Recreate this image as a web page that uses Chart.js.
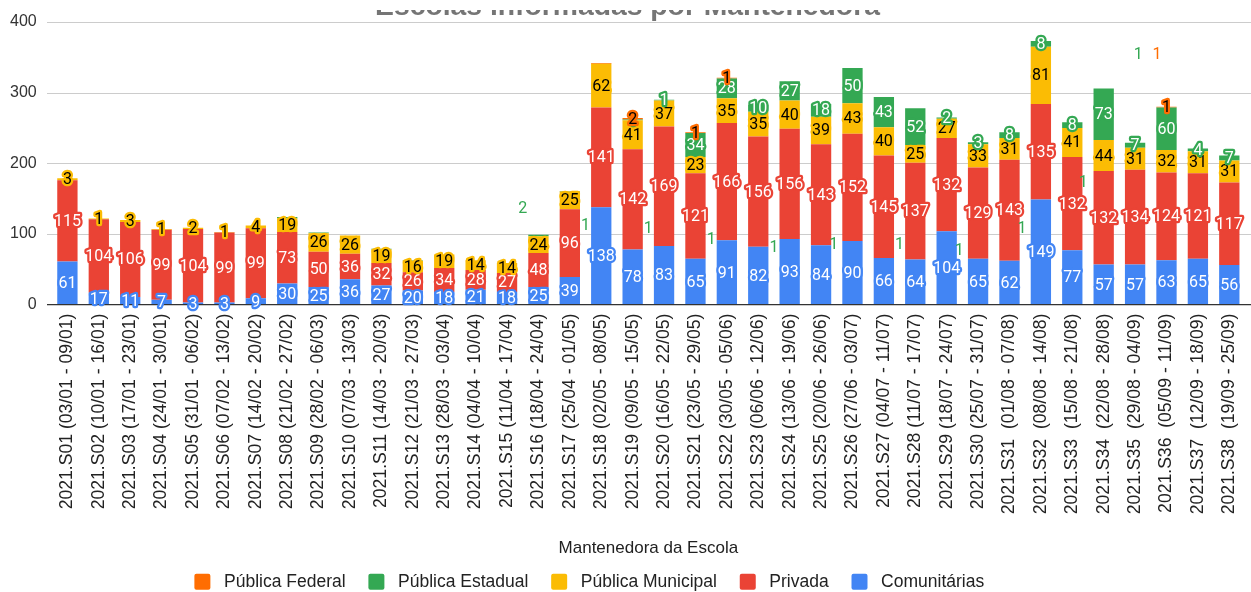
<!DOCTYPE html>
<html><head><meta charset="utf-8">
<script src="https://cdn.jsdelivr.net/npm/chart.js@4/dist/chart.umd.min.js"></script>
<style>
html,body{margin:0;padding:0;background:#fff;overflow:hidden;width:1251px;height:592px;position:relative}
#wrap{position:absolute;left:0;top:-10px;width:1251px;height:620px}
#cover{position:absolute;left:0;top:0;width:1251px;height:10px;background:#fff;z-index:2}
</style></head><body>
<div id="wrap"><canvas id="c" width="1251" height="620"></canvas></div><div id="cover"></div>
<script>
const categories = [
  "2021.S01 (03/01 - 09/01)", "2021.S02 (10/01 - 16/01)", "2021.S03 (17/01 - 23/01)", "2021.S04 (24/01 - 30/01)",
  "2021.S05 (31/01 - 06/02)", "2021.S06 (07/02 - 13/02)", "2021.S07 (14/02 - 20/02)", "2021.S08 (21/02 - 27/02)",
  "2021.S09 (28/02 - 06/03)", "2021.S10 (07/03 - 13/03)", "2021.S11 (14/03 - 20/03)", "2021.S12 (21/03 - 27/03)",
  "2021.S13 (28/03 - 03/04)", "2021.S14 (04/04 - 10/04)", "2021.S15 (11/04 - 17/04)", "2021.S16 (18/04 - 24/04)",
  "2021.S17 (25/04 - 01/05)", "2021.S18 (02/05 - 08/05)", "2021.S19 (09/05 - 15/05)", "2021.S20 (16/05 - 22/05)",
  "2021.S21 (23/05 - 29/05)", "2021.S22 (30/05 - 05/06)", "2021.S23 (06/06 - 12/06)", "2021.S24 (13/06 - 19/06)",
  "2021.S25 (20/06 - 26/06)", "2021.S26 (27/06 - 03/07)", "2021.S27 (04/07 - 11/07)", "2021.S28 (11/07 - 17/07)",
  "2021.S29 (18/07 - 24/07)", "2021.S30 (25/07 - 31/07)", "2021.S31  (01/08 - 07/08)", "2021.S32  (08/08 - 14/08)",
  "2021.S33  (15/08 - 21/08)", "2021.S34  (22/08 - 28/08)", "2021.S35  (29/08 - 04/09)", "2021.S36  (05/09 - 11/09)",
  "2021.S37  (12/09 - 18/09)", "2021.S38  (19/09 - 25/09)"
];
const comunitarias = [61,17,11,7,3,3,9,30,25,36,27,20,18,21,18,25,39,138,78,83,65,91,82,93,84,90,66,64,104,65,62,149,77,57,57,63,65,56];
const privada      = [115,104,106,99,104,99,99,73,50,36,32,26,34,28,27,48,96,141,142,169,121,166,156,156,143,152,145,137,132,129,143,135,132,132,134,124,121,117];
const municipal    = [3,1,3,1,2,1,4,19,26,26,19,16,19,14,14,24,25,62,41,37,23,35,35,40,39,43,40,25,27,33,31,81,41,44,31,32,31,31];
const estadual     = [0,0,0,0,0,0,0,2,1,0,1,1,0,0,0,2,1,0,1,1,34,28,10,27,18,50,43,52,2,3,8,8,8,73,7,60,4,7];
const federal      = [0,0,0,0,0,0,0,0,0,0,0,0,0,0,0,0,0,1,2,0,1,1,0,0,0,0,0,0,0,0,0,0,0,0,0,1,0,0];
// values whose label is not printed on the bar in the original
const estadualSemRotulo = [7,8,10,11,15,16];
const federalSemRotulo  = [17];
// stray value labels of the original, placed between bars (category position, value level)
const soltosPos   = [14.5,16.5,18.5,20.5,22.5,24.4,26.5,28.4,30.4,32.35,34.1,34.7];
const soltosNivel = [135,111,107,92,80,84,84,76,107,172,353,353];
const soltosTexto = ["2","1","1","1","1","1","1","1","1","1","1","1"];
const soltosSerie = [3,3,3,3,3,3,3,3,3,3,3,4];
const yTicks = [0,100,200,300,400];
const seriesNames = ["Comunitárias","Privada","Pública Municipal","Pública Estadual","Pública Federal"];
const axisTitle = "Mantenedora da Escola";
const chartTitle = "Escolas informadas por Mantenedora";

const COLORS = {blue:"#4285F4", red:"#EA4335", yellow:"#FBBC04", green:"#34A853", orange:"#FF6D01"};
const seriesStyle = [
  {color:COLORS.blue, text:"#ffffff", hide:[]},
  {color:COLORS.red, text:"#ffffff", hide:[]},
  {color:COLORS.yellow, text:"#000000", hide:[]},
  {color:COLORS.green, text:"#ffffff", hide:estadualSemRotulo},
  {color:COLORS.orange, text:"#000000", hide:federalSemRotulo}
];
const seriesData = [comunitarias, privada, municipal, estadual, federal];
const FONT = '"Liberation Sans", Arial, sans-serif';

const gridPlugin = {
  id:'gridExt',
  beforeDatasetsDraw(chart){
    const ctx = chart.ctx, y = chart.scales.y;
    ctx.save();
    ctx.strokeStyle = '#cccccc'; ctx.lineWidth = 1;
    yTicks.forEach(v => {
      if (v === 0) return;
      const py = Math.round(y.getPixelForValue(v)) + 0.5;
      ctx.beginPath(); ctx.moveTo(47, py); ctx.lineTo(chart.width, py); ctx.stroke();
    });
    ctx.restore();
  },
  afterDatasetsDraw(chart){
    const ctx = chart.ctx, y = chart.scales.y, x = chart.scales.x;
    ctx.save();
    ctx.strokeStyle = '#333333'; ctx.lineWidth = 1.3;
    const py = y.getPixelForValue(0);
    ctx.beginPath(); ctx.moveTo(47, py); ctx.lineTo(chart.width, py); ctx.stroke();
    ctx.font = '16px Roboto';
    ctx.textAlign = 'center'; ctx.textBaseline = 'middle';
    ctx.lineJoin = 'round';
    chart.data.datasets.forEach((ds, di) => {
      const meta = chart.getDatasetMeta(di);
      const st = seriesStyle[di];
      meta.data.forEach((bar, i) => {
        const v = ds.data[i];
        if (!v || st.hide.includes(i)) return;
        const cy = (bar.y + bar.base) / 2 + 1;
        const t = String(v);
        ctx.lineWidth = 4.5; ctx.strokeStyle = st.color;
        ctx.strokeText(t, bar.x, cy);
        ctx.fillStyle = st.text;
        ctx.fillText(t, bar.x, cy);
      });
    });
    // stray labels
    const p0 = x.getPixelForValue(0), p1 = x.getPixelForValue(1);
    soltosPos.forEach((pos, k) => {
      ctx.fillStyle = seriesStyle[soltosSerie[k]].color;
      ctx.fillText(soltosTexto[k], p0 + (p1 - p0) * pos, y.getPixelForValue(soltosNivel[k]));
    });
    ctx.restore();
  },
  afterLayout(chart){
    const lg = chart.legend;
    if (!lg) return;
    lg.left -= 38.2; lg.right -= 38.2;
    lg.top -= 9.4; lg.bottom -= 9.4;
  }
};

new Chart(document.getElementById('c'), {
  type:'bar',
  data:{
    labels: categories,
    datasets: seriesNames.map((n, k) => ({
      label: n,
      data: seriesData[k],
      backgroundColor: seriesStyle[k].color,
      borderWidth: 0,
      barPercentage: 0.647,
      categoryPercentage: 1.0
    }))
  },
  options:{
    responsive:false,
    animation:false,
    devicePixelRatio:1,
    layout:{padding:{left:10, right:6, top:0, bottom:0}},
    plugins:{
      title:{display:true, text:chartTitle, color:'#757575',
        font:{family:FONT, size:28.3, weight:'bold', lineHeight:1},
        padding:{top:3.2, bottom:0.5}},
      legend:{
        position:'bottom', reverse:true,
        labels:{
          boxWidth:16, boxHeight:16, padding:22.8, color:'#222222',
          useBorderRadius:true, borderRadius:2,
          font:{family:FONT, size:17.5},
          generateLabels(chart){
            const items = Chart.defaults.plugins.legend.labels.generateLabels(chart);
            items.forEach(it => { it.text = ' ' + it.text; it.lineWidth = 0; });
            return items;
          }
        }
      },
      tooltip:{enabled:false}
    },
    scales:{
      x:{
        stacked:true,
        afterFit(scale){ scale.paddingLeft = 0; scale.paddingRight = 0; },
        grid:{display:false, drawTicks:false},
        border:{display:false},
        ticks:{autoSkip:false, maxRotation:90, minRotation:90, padding:9, color:'#222222',
          font:{family:FONT, size:17.6}},
        title:{display:true, text:axisTitle, color:'#222222',
          font:{family:FONT, size:17},
          padding:{top:14.5, bottom:1.6}}
      },
      y:{
        stacked:true, min:0, max:400,
        afterBuildTicks(scale){ scale.ticks = yTicks.map(v => ({value:v})); },
        afterFit(scale){ scale.width = 41.7; },
        grid:{display:false, drawTicks:false},
        border:{display:false},
        ticks:{padding:15, color:'#333333',
          font:{family:FONT, size:16}}
      }
    }
  },
  plugins:[gridPlugin]
});
</script>
</body></html>
